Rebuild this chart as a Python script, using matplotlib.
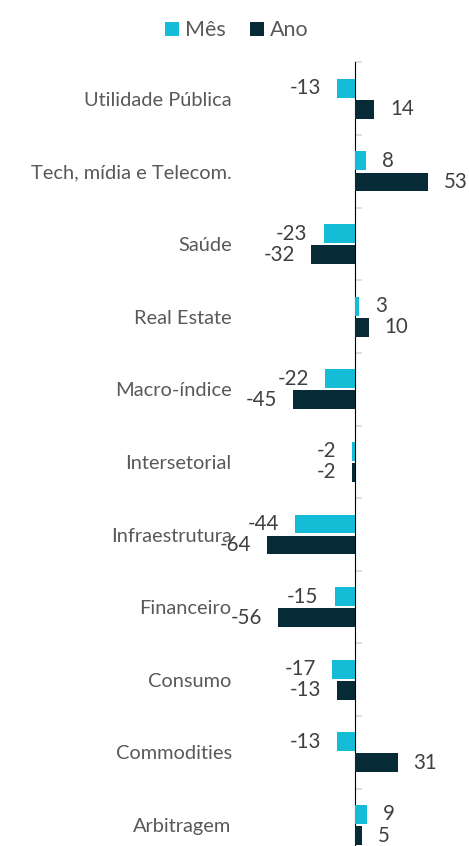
import matplotlib
matplotlib.use("Agg")
import matplotlib.pyplot as plt
import numpy as np

categories = ["Utilidade Pública", "Tech, mídia e Telecom.", "Saúde", "Real Estate",
              "Macro-índice", "Intersetorial", "Infraestrutura", "Financeiro",
              "Consumo", "Commodities", "Arbitragem"]
mes = [-13, 8, -23, 3, -22, -2, -44, -15, -17, -13, 9]
ano = [14, 53, -32, 10, -45, -2, -64, -56, -13, 31, 5]
series_names = ["Mês", "Ano"]

c_mes = "#14BDD5"
c_ano = "#062B36"
c_label = "#595959"
c_value = "#404040"
c_axis = "#D9D9D9"

plt.rcParams["font.family"] = ["Lato", "DejaVu Sans"]

W, H = 469, 846
fig = plt.figure(figsize=(W / 100, H / 100), dpi=100)

# axes placed in pixel terms (bottom row runs past the figure edge)
ax_left, ax_right = 240, 466
ax_top, ax_bottom = 62.5, 861.3
ax = fig.add_axes([ax_left / W, 1 - ax_bottom / H,
                   (ax_right - ax_left) / W, (ax_bottom - ax_top) / H])

y = np.arange(len(categories))
off = 0.145
h = 0.26
ax.barh(y - off, mes, height=h, color=c_mes, label=series_names[0], zorder=2)
ax.barh(y + off, ano, height=h, color=c_ano, label=series_names[1], zorder=2)

ax.set_xlim(-84, 81)
ax.set_ylim(len(categories) - 0.5, -0.5)

for s in ax.spines.values():
    s.set_visible(False)
ax.set_xticks([])
ax.set_yticks(y)
ax.set_yticklabels(categories, fontsize=14.4, color=c_label)
ax.tick_params(axis="y", length=0, pad=6)

# vertical axis at zero with tick marks between categories
sec = ax.secondary_yaxis(location=84 / 165)
sec.set_yticks(np.arange(len(categories) + 1) - 0.5)
sec.set_yticklabels([])
sec.tick_params(axis="y", length=5, width=1.2, color=c_axis, direction="out")
sec.spines["left"].set_color(c_axis)
sec.spines["left"].set_linewidth(2)

# value labels
pad_pts = 11.5
for yy, vals in ((y - off, mes), (y + off, ano)):
    for yi, v in zip(yy, vals):
        ax.annotate(f"{v}", xy=(v, yi), xytext=(pad_pts if v >= 0 else -pad_pts, 0),
                    textcoords="offset points", ha="left" if v >= 0 else "right",
                    va="center", fontsize=14.8, color=c_value, zorder=3)

fig.legend(loc="upper center", bbox_to_anchor=(0.505, 1.0), ncol=2, frameon=False,
           fontsize=15.5, handlelength=0.65, handleheight=0.65, handletextpad=0.3,
           columnspacing=1.1, labelcolor=c_label, borderaxespad=0.55)

fig.savefig("out.png", dpi=100)
